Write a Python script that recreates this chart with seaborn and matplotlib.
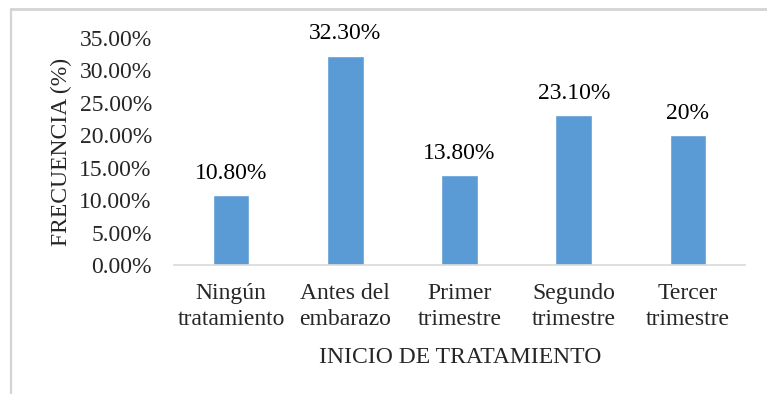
import matplotlib
matplotlib.use("Agg")
import matplotlib.pyplot as plt
import seaborn as sns
import pandas as pd
from matplotlib.lines import Line2D
from matplotlib.ticker import FuncFormatter

categorias = ["Ningún\ntratamiento", "Antes del\nembarazo", "Primer\ntrimestre",
              "Segundo\ntrimestre", "Tercer\ntrimestre"]
frecuencias = [10.8, 32.3, 13.8, 23.1, 20.0]
etiquetas = ["10.80%", "32.30%", "13.80%", "23.10%", "20%"]
ticks_y = [0, 5, 10, 15, 20, 25, 30, 35]

sns.set_theme(style="white")
plt.rcParams["font.family"] = ["Liberation Serif", "DejaVu Serif"]
FS = 17

df = pd.DataFrame({"cat": categorias, "val": frecuencias})

fig = plt.figure(figsize=(7.67, 3.94), dpi=100)
ax = fig.add_axes([174 / 767, 1 - 265 / 394, 571 / 767, 227 / 394])

sns.barplot(data=df, x="cat", y="val", color="#5b9bd5", saturation=1,
            width=0.32, ax=ax)

ax.set_ylim(0, 35)
ax.set_xlim(-0.5, 4.5)
ax.set_yticks(ticks_y)
ax.yaxis.set_major_formatter(FuncFormatter(lambda v, p: f"{v:.2f}%"))
ax.tick_params(axis="y", labelsize=FS, length=0, pad=16)
ax.tick_params(axis="x", labelsize=FS, length=0, pad=13)
for lbl in ax.get_xticklabels():
    lbl.set_linespacing(1.28)

for s in ["top", "right", "left"]:
    ax.spines[s].set_visible(False)
ax.spines["bottom"].set_color("#d9d9d9")
ax.spines["bottom"].set_linewidth(1.2)

ax.set_ylabel("FRECUENCIA (%)", fontsize=FS)
ax.yaxis.set_label_coords(-0.178, 0.5)
ax.set_xlabel("INICIO DE TRATAMIENTO", fontsize=FS)
ax.xaxis.set_label_coords(0.501, -0.36)

for i, (v, t) in enumerate(zip(frecuencias, etiquetas)):
    ax.annotate(t, (i, v), xytext=(0, 8), textcoords="offset points",
                ha="center", va="bottom", fontsize=FS, color="black")

# outer chart frame (left and top edges)
fx, fy = 10.5 / 767, 1 - 8.5 / 394
fig.add_artist(Line2D([fx, fx], [0, fy], transform=fig.transFigure,
                      color="#d4d4d4", linewidth=1.6, zorder=10))
fig.add_artist(Line2D([fx, 1.0], [fy, fy], transform=fig.transFigure,
                      color="#d4d4d4", linewidth=2.0, zorder=10))

fig.savefig("out.png", dpi=100)
